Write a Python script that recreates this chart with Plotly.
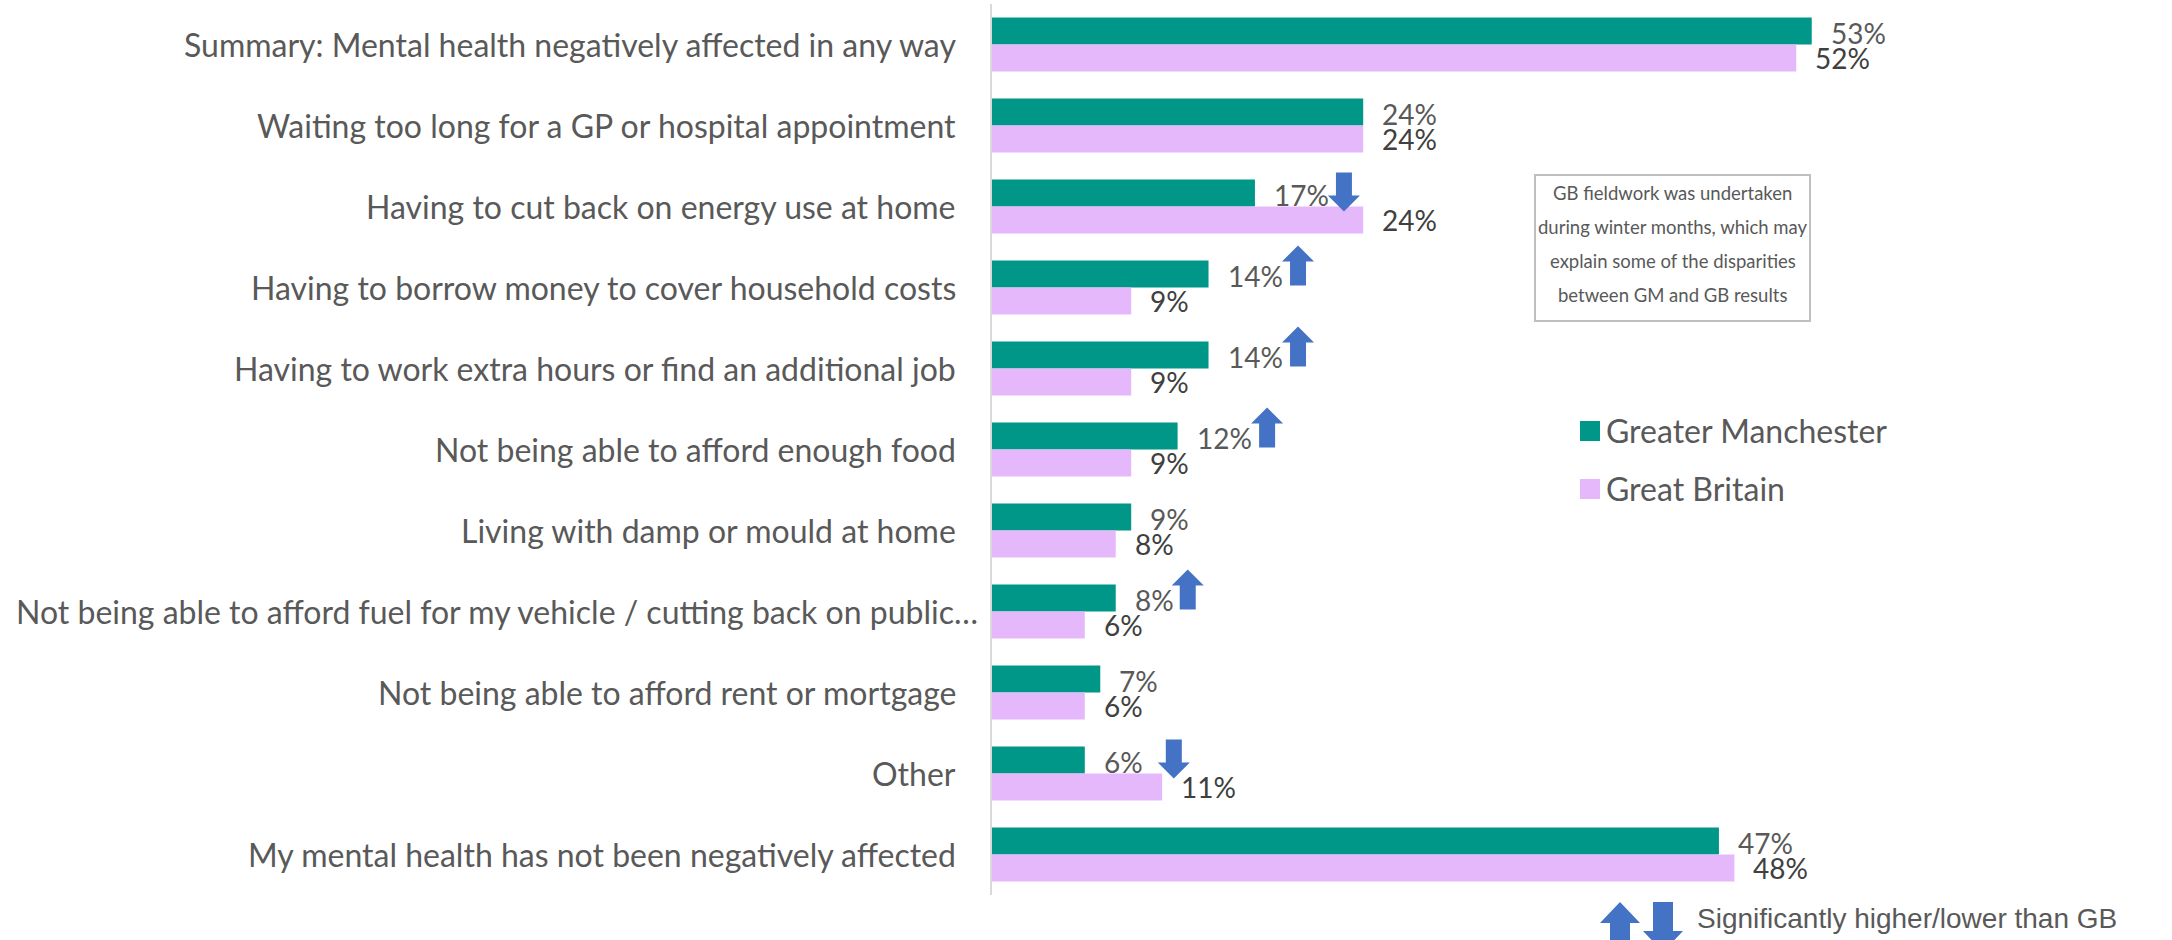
import plotly.graph_objects as go

# ---- data -------------------------------------------------------------
categories = [
    "Summary: Mental health negatively affected in any way",
    "Waiting too long for a GP or hospital appointment",
    "Having to cut back on energy use at home",
    "Having to borrow money to cover household costs",
    "Having to work extra hours or find an additional job",
    "Not being able to afford enough food",
    "Living with damp or mould at home",
    "Not being able to afford fuel for my vehicle / cutting back on public…",
    "Not being able to afford rent or mortgage",
    "Other",
    "My mental health has not been negatively affected",
]
greater_manchester = [53, 24, 17, 14, 14, 12, 9, 8, 7, 6, 47]
great_britain = [52, 24, 24, 9, 9, 9, 8, 6, 6, 11, 48]
# significance of Greater Manchester vs GB: "up", "down" or ""
significance = ["", "", "down", "up", "up", "up", "", "up", "", "down", ""]

series_names = ["Greater Manchester", "Great Britain"]
note_lines = [
    "GB fieldwork was undertaken",
    "during winter months, which may",
    "explain some of the disparities",
    "between GM and GB results",
]
sig_note = "Significantly higher/lower than GB"

# ---- styling ----------------------------------------------------------
W, H = 2172, 940
ML, MR, MT, MB = 992, 20, 4, 45
PW, PH = W - ML - MR, H - MT - MB
TEAL = "#009688"
LILAC = "#E5B8FC"
ARROW = "#4472C4"
GREY = "#595959"
DARK = "#404040"
FONT = "Lato"

positions = list(range(len(categories)))


def px_x(px):
    return (px - ML) / PW


def px_y(py):
    return 1 - (py - MT) / PH


fig = go.Figure()
fig.add_trace(go.Bar(
    y=positions, x=greater_manchester, orientation="h", name=series_names[0],
    marker=dict(color=TEAL, line=dict(width=0)), showlegend=False,
))
fig.add_trace(go.Bar(
    y=positions, x=great_britain, orientation="h", name=series_names[1],
    marker=dict(color=LILAC, line=dict(width=0)), showlegend=False,
))

annotations = []
shapes = []
BAR_HALF = 13.5
LABEL_GAP = 17
CAT_GAP = 34

# category labels, right-aligned against the axis; a truncated label
# is allowed to run a little closer to the axis
for p, cat in zip(positions, categories):
    annotations.append(dict(
        x=0, y=p, xref="paper", yref="y", text=cat, showarrow=False,
        xanchor="right", yanchor="middle",
        xshift=-(CAT_GAP - 22) if cat.endswith("…") else -CAT_GAP,
        font=dict(family=FONT, size=32, color=GREY),
    ))

# value labels next to each bar
for p, v in zip(positions, greater_manchester):
    annotations.append(dict(
        x=v, y=p, xref="x", yref="y", text=f"{v}%", showarrow=False,
        xanchor="left", yanchor="middle", xshift=LABEL_GAP, yshift=BAR_HALF - 2,
        font=dict(family=FONT, size=28, color=GREY),
    ))
for p, v in zip(positions, great_britain):
    annotations.append(dict(
        x=v, y=p, xref="x", yref="y", text=f"{v}%", showarrow=False,
        xanchor="left", yanchor="middle", xshift=LABEL_GAP, yshift=-BAR_HALF,
        font=dict(family=FONT, size=28, color=DARK),
    ))


def arrow_path(cx, bottom, top, up, head_w=16, stem_w=8, head_h=16):
    """Block arrow path in pixel units (y positive = up)."""
    if up:
        neck = top - head_h
        pts = [(cx - stem_w, bottom), (cx + stem_w, bottom), (cx + stem_w, neck),
               (cx + head_w, neck), (cx, top), (cx - head_w, neck), (cx - stem_w, neck)]
    else:
        neck = bottom + head_h
        pts = [(cx - stem_w, top), (cx + stem_w, top), (cx + stem_w, neck),
               (cx + head_w, neck), (cx, bottom), (cx - head_w, neck), (cx - stem_w, neck)]
    return "M " + " L ".join(f"{x:.1f},{y:.1f}" for x, y in pts) + " Z"


# significance arrows: up arrows hug the Greater Manchester label,
# down arrows sit at a fixed distance past the bar end
for p, v, s in zip(positions, greater_manchester, significance):
    if not s:
        continue
    label = f"{v}%"
    if s == "up":
        dx = LABEL_GAP + 17.5 * len(label) + 20
        path = arrow_path(dx, 2, 42, True)
    else:
        dx = 89
        path = arrow_path(dx, -5, 34, False)
    shapes.append(dict(
        type="path", xref="x", yref="y", xsizemode="pixel", ysizemode="pixel",
        xanchor=v, yanchor=p, path=path,
        fillcolor=ARROW, line=dict(width=0), layer="above",
    ))

# legend swatches and labels
for i, (name, col) in enumerate(zip(series_names, [TEAL, LILAC])):
    cy = 431 + 58 * i
    shapes.append(dict(
        type="rect", xref="paper", yref="paper",
        x0=px_x(1580), x1=px_x(1600), y0=px_y(cy + 10), y1=px_y(cy - 10),
        fillcolor=col, line=dict(width=0),
    ))
    annotations.append(dict(
        x=px_x(1604), y=px_y(cy), xref="paper", yref="paper", text=name,
        showarrow=False, xanchor="left", yanchor="middle",
        font=dict(family=FONT, size=32, color=GREY),
    ))

# note box
shapes.append(dict(
    type="rect", xref="paper", yref="paper",
    x0=px_x(1535), x1=px_x(1810), y0=px_y(321), y1=px_y(175),
    fillcolor="white", line=dict(color="#BFBFBF", width=2), layer="below",
))
for i, line in enumerate(note_lines):
    annotations.append(dict(
        x=px_x(1672.5), y=px_y(193 + 34 * i), xref="paper", yref="paper",
        text=line, showarrow=False, xanchor="center", yanchor="middle",
        font=dict(family=FONT, size=18.5, color=GREY),
    ))

# significance key at the bottom
for cx, up in [(1620, True), (1663, False)]:
    top = H - 902
    shapes.append(dict(
        type="path", xref="paper", yref="paper", xsizemode="pixel", ysizemode="pixel",
        xanchor=px_x(cx), yanchor=px_y(H), layer="above",
        path=arrow_path(0, -12, top, up, head_w=20, stem_w=10, head_h=21),
        fillcolor=ARROW, line=dict(width=0),
    ))
annotations.append(dict(
    x=px_x(1695), y=px_y(918), xref="paper", yref="paper", text=sig_note,
    showarrow=False, xanchor="left", yanchor="middle",
    font=dict(family="Liberation Sans", size=28, color=GREY),
))

fig.update_layout(
    width=W, height=H,
    margin=dict(l=ML, r=MR, t=MT, b=MB, autoexpand=False),
    paper_bgcolor="white", plot_bgcolor="white",
    barmode="group", bargap=1 / 3, bargroupgap=0,
    showlegend=False,
    annotations=annotations, shapes=shapes,
    xaxis=dict(range=[0, 75], visible=False, fixedrange=True),
    yaxis=dict(
        range=[len(categories) - 0.5, -0.5],
        tickmode="array", tickvals=positions, showticklabels=False,
        ticks="", showgrid=False, zeroline=False,
        showline=True, linecolor="#D9D9D9", linewidth=2,
        fixedrange=True,
    ),
)

fig.write_html("out.html")
